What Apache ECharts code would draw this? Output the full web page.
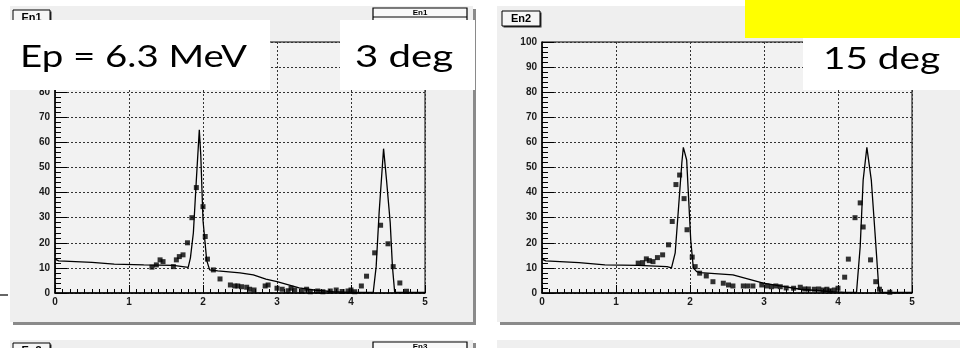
<!DOCTYPE html>
<html>
<head>
<meta charset="utf-8">
<script src="https://cdn.jsdelivr.net/npm/echarts@6/dist/echarts.min.js"></script>
<style>
  html, body { margin: 0; padding: 0; background: #fff; }
  #chart-container { width: 960px; height: 348px; }
</style>
</head>
<body>
<div id="chart-container"></div>
<script>
var dom = document.getElementById("chart-container");
var myChart = echarts.init(dom, null, { renderer: "canvas" });

// axis ticks
var xTicks = [0, 1, 2, 3, 4, 5];
var yTicks = [0, 10, 20, 30, 40, 50, 60, 70, 80, 90, 100];

// En1 (3 deg): simulated curve
var en1LineE = [0, 0.05, 0.5, 0.8, 1.2, 1.6, 1.8, 1.83, 1.87, 1.91, 1.95, 1.97, 2.0, 2.05, 2.09, 2.2, 2.5, 2.68, 2.85, 3.0, 3.3, 3.5, 3.76, 4.0, 4.3, 4.34, 4.38, 4.44, 4.48, 4.53, 4.56, 4.59, 5];
var en1LineV = [13.5, 12.8, 12.2, 11.5, 11.2, 11.0, 10.2, 14, 24, 45, 65, 55, 29, 13, 9.2, 8.8, 8.0, 7.2, 5.5, 4.5, 2.0, 1.2, 0.5, 0.2, 0.2, 10.5, 32, 57.5, 45, 28, 10.5, 0.3, 0.2];
// En1 measured points
var en1DataE = [1.31, 1.37, 1.42, 1.46, 1.60, 1.64, 1.68, 1.73, 1.79, 1.85, 1.91, 2.00, 2.03, 2.06, 2.14, 2.23, 2.37, 2.43, 2.47, 2.52, 2.59, 2.63, 2.69, 2.84, 2.88, 3.0, 3.07, 3.15, 3.19, 3.24, 3.33, 3.40, 3.45, 3.55, 3.62, 3.72, 3.80, 3.88, 3.96, 4.0, 4.05, 4.14, 4.21, 4.32, 4.40, 4.50, 4.57, 4.66, 4.75];
var en1DataV = [10.3, 11.2, 13.2, 12.5, 10.5, 13.2, 14.5, 15.2, 20, 30, 42, 34.4, 22.5, 13.5, 9.2, 5.6, 3.2, 2.8, 2.8, 2.5, 2.3, 1.5, 1.2, 2.8, 3.2, 1.9, 1.5, 0.9, 1.9, 1.2, 0.8, 1.5, 0.5, 0.8, 0.5, 0.8, 1.2, 0.6, 0.8, 1.2, 0.5, 2.8, 6.7, 16, 27, 19.6, 10.5, 4, 0.7];

// En2 (15 deg): simulated curve
var en2LineE = [0, 0.05, 0.5, 0.85, 1.3, 1.69, 1.75, 1.8, 1.84, 1.89, 1.91, 1.955, 1.98, 2.01, 2.045, 2.09, 2.14, 2.58, 2.99, 3.49, 3.93, 4.1, 4.25, 4.3, 4.34, 4.39, 4.45, 4.5, 4.55, 4.57, 5];
var en2LineV = [13.5, 12.8, 12.1, 11.2, 11.0, 10.5, 10.0, 16, 32, 52, 58, 53, 38.5, 21, 10, 8.5, 8.1, 7.2, 3.9, 1.5, 0.5, 0.2, 0.2, 18.5, 45, 58, 45, 24, 2.5, 0.2, 0.2];
// En2 measured points
var en2DataE = [1.30, 1.36, 1.41, 1.45, 1.50, 1.56, 1.63, 1.71, 1.76, 1.81, 1.86, 1.92, 1.96, 2.03, 2.07, 2.13, 2.22, 2.31, 2.45, 2.52, 2.58, 2.72, 2.78, 2.85, 2.97, 3.04, 3.1, 3.16, 3.22, 3.3, 3.4, 3.49, 3.55, 3.6, 3.68, 3.74, 3.8, 3.85, 3.89, 3.95, 4.0, 4.09, 4.14, 4.23, 4.30, 4.34, 4.44, 4.51, 4.56, 4.70];
var en2DataV = [11.9, 12.1, 13.6, 12.9, 12.5, 14.1, 15.2, 19.2, 28.5, 43.2, 47, 37.6, 25.2, 14.3, 10.5, 7.9, 6.8, 4.5, 3.9, 3.2, 2.8, 2.8, 2.8, 2.8, 3.2, 2.8, 2.5, 2.8, 2.5, 2.0, 1.9, 2.3, 1.6, 1.6, 1.5, 1.6, 1.2, 1.5, 0.9, 1.2, 1.9, 6.3, 13.5, 30, 35.9, 26.3, 13.2, 4.5, 1.5, 0.3];

function pairs(xs, ys) {
  return xs.map(function (x, i) { return [x, ys[i]]; });
}

var labelFont = { color: "#1a1a1a", fontSize: 10, fontWeight: "bold", fontFamily: "Liberation Sans" };
var gridLine = { show: true, lineStyle: { color: "#333", width: 1, type: [2, 2] } };

function xAxis(g) {
  return {
    type: "value", gridIndex: g, min: xTicks[0], max: xTicks[xTicks.length - 1], interval: 1, z: 3,
    axisLine: { show: true, onZero: false, lineStyle: { color: "#000", width: 1.5 } },
    axisTick: { show: true, inside: true, length: 8, lineStyle: { color: "#000" } },
    minorTick: { show: true, splitNumber: 10, length: 4, lineStyle: { color: "#000" } },
    axisLabel: Object.assign({ margin: 4 }, labelFont),
    splitLine: gridLine
  };
}
function yAxis(g) {
  return {
    type: "value", gridIndex: g, min: yTicks[0], max: yTicks[yTicks.length - 1], interval: 10, z: 3,
    axisLine: { show: true, onZero: false, lineStyle: { color: "#000", width: 1.5 } },
    axisTick: { show: true, inside: true, length: 12, lineStyle: { color: "#000" } },
    minorTick: { show: true, splitNumber: 5, length: 6, lineStyle: { color: "#000" } },
    axisLabel: Object.assign({ margin: 5 }, labelFont),
    splitLine: gridLine
  };
}

function lineSeries(g, xs, ys) {
  return {
    type: "line", xAxisIndex: g, yAxisIndex: g, data: pairs(xs, ys),
    showSymbol: false, lineStyle: { color: "#000", width: 1.3 }, z: 4, silent: true
  };
}
function dotSeries(g, xs, ys) {
  return {
    type: "scatter", xAxisIndex: g, yAxisIndex: g, data: pairs(xs, ys),
    symbol: "rect", symbolSize: 5, itemStyle: { color: "#000" }, z: 5, silent: true
  };
}

function pad(x, y, w, h) {
  return [
    { type: "rect", z: 0, shape: { x: x + 3, y: y + 3, width: w, height: h }, style: { fill: "#8a8a8a" } },
    { type: "rect", z: 0, shape: { x: x, y: y, width: w, height: h }, style: { fill: "#efefef" } }
  ];
}
function tag(x, y, w, text) {
  return [
    { type: "rect", z: 1, shape: { x: x + 1.5, y: y + 1.5, width: w, height: 15 }, style: { fill: "#333" } },
    { type: "rect", z: 1, shape: { x: x, y: y, width: w, height: 15 }, style: { fill: "#f6f6f6", stroke: "#000", lineWidth: 1 } },
    { type: "text", z: 1, style: { x: x + w / 2, y: y + 8, text: text, align: "center", verticalAlign: "middle", font: "bold 11px Liberation Sans", fill: "#000" } }
  ];
}
function statsBox(x, y, w, text) {
  return [
    { type: "rect", z: 1, shape: { x: x, y: y, width: w, height: 30 }, style: { fill: "#f8f8f8", stroke: "#000", lineWidth: 1.2 } },
    { type: "line", z: 1, shape: { x1: x, y1: y + 9, x2: x + w, y2: y + 9 }, style: { stroke: "#000", lineWidth: 1 } },
    { type: "text", z: 1, style: { x: x + w / 2, y: y + 5, text: text, align: "center", verticalAlign: "middle", font: "bold 8px Liberation Sans", fill: "#000" } }
  ];
}
function whiteBox(x, y, w, h) {
  return { type: "rect", z: 100, shape: { x: x, y: y, width: w, height: h }, style: { fill: "#fff" } };
}
// slide text, stretched sideways like the source image
function bigText(x, y, sx, text) {
  return { type: "text", z: 101, x: x, y: y, scaleX: sx, style: { x: 0, y: 0, text: text, align: "left", verticalAlign: "middle", font: "30px Lato", fill: "#000" } };
}

var graphics = [].concat(
  pad(10, 6, 463, 316),
  pad(497, 6, 470, 316),
  pad(10, 340, 463, 30),
  pad(497, 340, 470, 30),
  tag(13, 10, 37, "En1"),
  tag(502, 11, 38, "En2"),
  tag(13, 343, 37, "En3"),
  statsBox(373, 8, 94, "En1"),
  statsBox(373, 342, 94, "En3"),
  [
    { type: "line", z: 1, shape: { x1: 0, y1: 295, x2: 8, y2: 295 }, style: { stroke: "#333", lineWidth: 1.5 } },
    { type: "rect", z: 100, shape: { x: 745, y: 0, width: 215, height: 38 }, style: { fill: "#ffff00" } },
    whiteBox(0, 20, 270, 70),
    whiteBox(340, 20, 135, 70),
    whiteBox(803, 38, 157, 52),
    bigText(20, 57, 1.28, "Ep = 6.3 MeV"),
    bigText(355, 57, 1.34, "3 deg"),
    bigText(823, 59, 1.29, "15 deg")
  ]
);

var option = {
  animation: false,
  backgroundColor: "#fff",
  grid: [
    { left: 55, right: 535, top: 42, bottom: 55, show: true, backgroundColor: "#f2f2f2", borderColor: "#000", borderWidth: 1, z: 2 },
    { left: 542, right: 48, top: 42, bottom: 55, show: true, backgroundColor: "#f2f2f2", borderColor: "#000", borderWidth: 1, z: 2 }
  ],
  xAxis: [xAxis(0), xAxis(1)],
  yAxis: [yAxis(0), yAxis(1)],
  series: [
    lineSeries(0, en1LineE, en1LineV),
    dotSeries(0, en1DataE, en1DataV),
    lineSeries(1, en2LineE, en2LineV),
    dotSeries(1, en2DataE, en2DataV)
  ],
  graphic: { elements: graphics }
};

myChart.setOption(option);

window.addEventListener("resize", function () {
  myChart.resize();
});
</script>
</body>
</html>
